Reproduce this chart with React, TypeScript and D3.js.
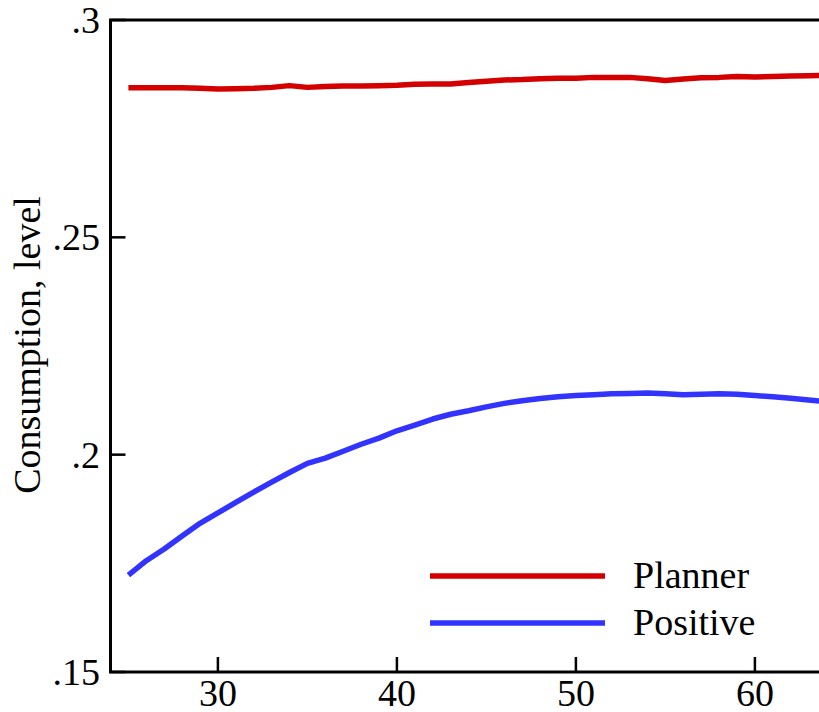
import React from "react";
import * as d3 from "d3";

const ages = d3.range(25, 65);
const planner = [
  0.2844, 0.2844, 0.2844, 0.2844, 0.2843, 0.2841, 0.2842, 0.2843, 0.2845, 0.2849,
  0.2845, 0.2847, 0.2848, 0.2848, 0.2849, 0.285, 0.2852, 0.2853, 0.2853, 0.2856,
  0.2859, 0.2862, 0.2863, 0.2865, 0.2866, 0.2866, 0.2868, 0.2868, 0.2868, 0.2865,
  0.2861, 0.2864, 0.2867, 0.2868, 0.287, 0.2869, 0.287, 0.2871, 0.2872, 0.2873,
];
const positive = [
  0.1723, 0.1756, 0.1783, 0.1813, 0.1842, 0.1866, 0.189, 0.1914, 0.1937, 0.1959,
  0.198, 0.1992, 0.2008, 0.2024, 0.2038, 0.2055, 0.2068, 0.2082, 0.2093, 0.2101,
  0.211, 0.2118, 0.2124, 0.2129, 0.2133, 0.2136, 0.2138, 0.214, 0.2141, 0.2142,
  0.214, 0.2138, 0.2139, 0.214, 0.2139, 0.2136, 0.2133, 0.213, 0.2126, 0.2122,
];
const xTicks = [30, 40, 50, 60];
const yTicks = [0.15, 0.2, 0.25, 0.3];
const yTickLabels = [".15", ".2", ".25", ".3"];
const seriesNames = ["Planner", "Positive"];
const seriesColors = ["#d40000", "#3333ff"];

const FONT = "Liberation Serif";

export default function App() {
  const W = 819;
  const H = 712;
  const left = 110.5;
  const right = 826.5;
  const top = 20;
  const bottom = 672;
  const x = d3.scaleLinear().domain([24, 64]).range([left, right]);
  const y = d3.scaleLinear().domain([0.15, 0.3]).range([bottom, top]);
  const line = d3
    .line<number>()
    .x((_, i) => x(ages[i]))
    .y((d) => y(d))
    .curve(d3.curveLinear);
  const series = [planner, positive];
  const legendY = [576, 623];
  return (
    <svg
      width={W}
      height={H}
      style={{ position: "absolute", left: 0, top: 0, background: "#fff" }}
    >
      <rect x={0} y={0} width={W} height={H} fill="#fff" />
      {series.map((s, k) => (
        <path
          key={k}
          d={line(s) || ""}
          fill="none"
          stroke={seriesColors[k]}
          strokeWidth={5.5}
          strokeLinejoin="round"
        />
      ))}
      <rect
        x={left}
        y={top}
        width={right - left}
        height={bottom - top}
        fill="none"
        stroke="#000"
        strokeWidth={3}
      />
      {xTicks.map((t) => (
        <g key={t}>
          <line x1={x(t)} x2={x(t)} y1={bottom} y2={bottom - 15} stroke="#000" strokeWidth={2.5} />
          <text
            x={x(t)}
            y={706}
            fontSize={38}
            textAnchor="middle"
            fill="#000"
            style={{ fontFamily: FONT }}
          >
            {t}
          </text>
        </g>
      ))}
      {yTicks.map((t, i) => (
        <g key={t}>
          <line x1={left} x2={left + 15} y1={y(t)} y2={y(t)} stroke="#000" strokeWidth={2.5} />
          <text
            x={100}
            y={y(t) + 13}
            fontSize={38}
            textAnchor="end"
            fill="#000"
            style={{ fontFamily: FONT }}
          >
            {yTickLabels[i]}
          </text>
        </g>
      ))}
      <text
        transform={`translate(40,345) rotate(-90)`}
        fontSize={38}
        textAnchor="middle"
        fill="#000"
        style={{ fontFamily: FONT }}
      >
        Consumption, level
      </text>
      {seriesNames.map((n, k) => (
        <g key={n}>
          <line
            x1={430}
            x2={605}
            y1={legendY[k]}
            y2={legendY[k]}
            stroke={seriesColors[k]}
            strokeWidth={5.5}
          />
          <text
            x={633}
            y={legendY[k] + 12}
            fontSize={38}
            fill="#000"
            style={{ fontFamily: FONT }}
          >
            {n}
          </text>
        </g>
      ))}
    </svg>
  );
}
